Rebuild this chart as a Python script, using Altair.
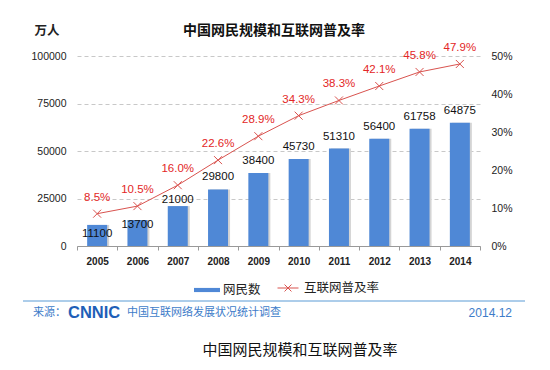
import altair as alt
import pandas as pd

# ---- data ----
years = ["2005", "2006", "2007", "2008", "2009", "2010", "2011", "2012", "2013", "2014"]
users = [11100, 13700, 21000, 29800, 38400, 45730, 51310, 56400, 61758, 64875]  # 万人
rates = [8.5, 10.5, 16.0, 22.6, 28.9, 34.3, 38.3, 42.1, 45.8, 47.9]  # %
user_ticks = [0, 25000, 50000, 75000, 100000]
rate_ticks = [0, 10, 20, 30, 40, 50]
series_names = ["网民数", "互联网普及率"]

df = pd.DataFrame({"year": years, "users": users, "rate": rates})
df["bar_series"] = series_names[0]
df["line_series"] = series_names[1]
df["rate_label"] = [f"{r:.1f}%" for r in rates]

LAT = "Liberation Sans, Arial, sans-serif"
CJK = "Noto Sans CJK SC, sans-serif"
BLUE = "#4f88d6"
RED = "#d9534f"
RED_TXT = "#e32626"

x_enc = alt.X(
    "year:N", sort=years,
    scale=alt.Scale(paddingInner=0, paddingOuter=0),
    axis=alt.Axis(title=None, labelAngle=0, tickBand="extent", tickSize=4,
                  domainColor="#999999", tickColor="#999999", grid=False,
                  labelFont=LAT, labelFontSize=10, labelFontWeight="bold",
                  labelColor="#222222", labelPadding=6),
)
yL_scale = alt.Scale(domain=[0, 100000], nice=False)
yR_scale = alt.Scale(domain=[0, 50], nice=False)
yL_axis = alt.Axis(title=None, values=user_ticks, orient="left", domain=False,
                   ticks=False, labelPadding=11, labelFont=LAT, labelFontSize=10.5,
                   labelColor="#222222", grid=True, gridDash=[4, 3],
                   gridColor="#c8c8c8", format="d")
yR_axis = alt.Axis(title=None, values=rate_ticks, orient="right", domain=False,
                   ticks=False, grid=False, labelPadding=11, labelFont=LAT,
                   labelFontSize=10.5, labelColor="#222222",
                   labelExpr="datum.value + '%'")
yL = alt.Y("users:Q", scale=yL_scale, axis=yL_axis)
yR = alt.Y("rate:Q", scale=yR_scale, axis=yR_axis)

base = alt.Chart(df)

shadow = base.mark_bar(size=20, color="#d4d4d4", xOffset=2).encode(x=x_enc, y=yL)
bars = base.mark_bar(size=20).encode(
    x=x_enc, y=yL,
    fill=alt.Fill("bar_series:N",
                  scale=alt.Scale(domain=[series_names[0]], range=[BLUE]),
                  legend=alt.Legend(title=None, orient="none", legendX=117, legendY=221,
                                    symbolType="M-1,-0.16H1V0.16H-1Z", symbolSize=676,
                                    symbolStrokeWidth=0, labelFont=CJK, labelFontSize=12.5,
                                    labelColor="#222222", padding=0, labelOffset=3)),
)


def bar_labels(sel, dy):
    return base.transform_filter(
        alt.FieldOneOfPredicate(field="year", oneOf=sel)
    ).mark_text(dy=dy, font=LAT, fontSize=11.5, color="#111111", baseline="middle").encode(
        x=x_enc, y=yL, text="users:Q"
    )


lbl_a = bar_labels(["2005"], 9)
lbl_b = bar_labels(["2006"], 5)
lbl_c = bar_labels(["2007"], -6)
lbl_d = bar_labels(years[3:], -12)

left = alt.layer(shadow, bars, lbl_a, lbl_b, lbl_c, lbl_d)

line = base.mark_line(strokeWidth=1).encode(
    x=x_enc, y=yR,
    stroke=alt.Stroke("line_series:N",
                      scale=alt.Scale(domain=[series_names[1]], range=[RED]),
                      legend=alt.Legend(title=None, orient="none", legendX=200, legendY=221,
                                        symbolType="M-1,0H1M-0.33,-0.33L0.33,0.33M0.33,-0.33L-0.33,0.33",
                                        symbolSize=441, symbolStrokeWidth=1,
                                        labelFont=CJK, labelFontSize=12.5,
                                        labelColor="#222222", padding=0, labelOffset=5)),
)
marks = base.mark_point(shape="M-1,-1L1,1M1,-1L-1,1", size=64, filled=False,
                        strokeWidth=1, color=RED, opacity=1).encode(x=x_enc, y=yR)
rate_text = base.mark_text(dy=-16, font=LAT, fontSize=11.5, color=RED_TXT,
                           baseline="middle").encode(x=x_enc, y=yR, text="rate_label:N")
right = alt.layer(line, marks, rate_text)

one = alt.Data(values=[{}])


def note(txt, x, y, **kw):
    return alt.Chart(one).mark_text(text=txt, **kw).encode(x=alt.value(x), y=alt.value(y))


title = note("中国网民规模和互联网普及率", 197, -25, font=CJK, fontSize=14,
             fontWeight="bold", color="#111111", align="center", baseline="middle")
unit = note("万人", -30, -25, font=CJK, fontSize=12.5, fontWeight="bold",
            color="#222222", align="center", baseline="middle")
rule = alt.Chart(one).mark_rule(color="#5b9bd5", strokeWidth=1).encode(
    x=alt.value(-54), x2=alt.value(448), y=alt.value(245)
)
src = note("来源：", -44, 257, font=CJK, fontSize=11, color="#3d7cc9",
           align="left", baseline="middle")
logo = note("CNNIC", -9, 257, font=LAT, fontSize=16.5, fontWeight="bold",
            color="#1f5fb8", align="left", baseline="middle")
survey = note("中国互联网络发展状况统计调查", 50, 257, font=CJK, fontSize=11,
              color="#3d7cc9", align="left", baseline="middle")
date = note("2014.12", 435, 257, font=LAT, fontSize=12, color="#3d7cc9",
            align="right", baseline="middle")
caption = note("中国网民规模和互联网普及率", 223, 294, font=CJK, fontSize=15,
               color="#111111", align="center", baseline="middle")

chart = alt.layer(
    left, right, title, unit, rule, src, logo, survey, date, caption
).resolve_scale(y="independent").properties(
    width=403, height=190,
    autosize=alt.AutoSizeParams(type="none"),
    padding={"left": 69, "top": 48, "right": 62, "bottom": 116},
    background="white",
).configure_view(stroke=None)

chart.save("out.html", embed_options={"renderer": "svg", "actions": False})
